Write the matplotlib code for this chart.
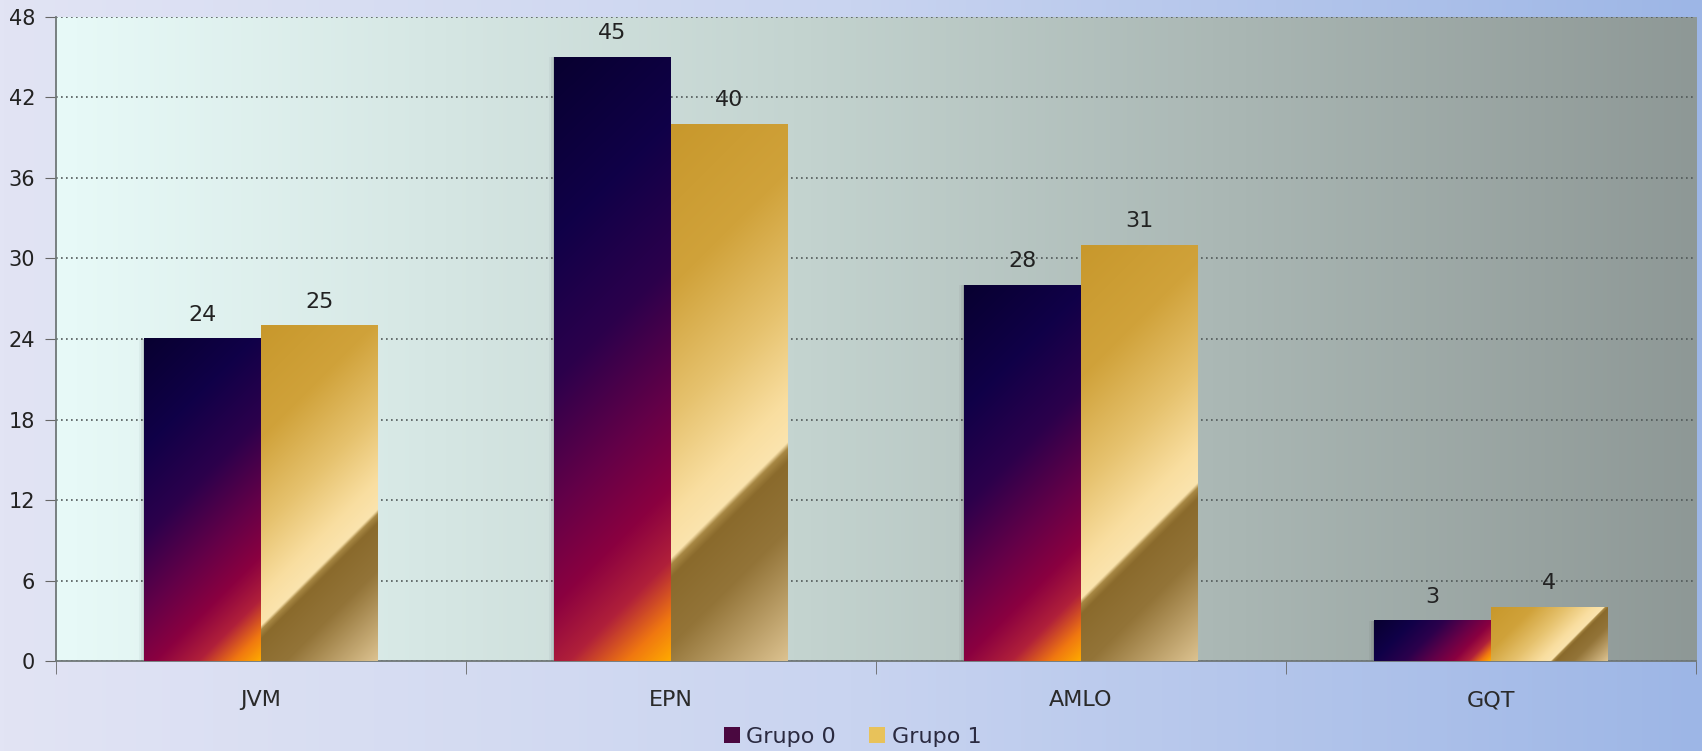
import numpy as np
import matplotlib
matplotlib.use("Agg")
import matplotlib.pyplot as plt
from matplotlib.patches import Patch

# data
categories = ["JVM", "EPN", "AMLO", "GQT"]
grupo0 = [24, 45, 28, 3]
grupo1 = [25, 40, 31, 4]
series_names = ["Grupo 0", "Grupo 1"]
y_ticks = [0, 6, 12, 18, 24, 30, 36, 42, 48]


def hex2rgb(h):
    h = h.lstrip("#")
    return np.array([int(h[i:i + 2], 16) for i in (0, 2, 4)]) / 255.0


def ramp(t, stops, cols):
    cols = np.array([hex2rgb(c) for c in cols])
    out = np.zeros(t.shape + (3,))
    for k in range(3):
        out[..., k] = np.interp(t, stops, cols[:, k])
    return out


def diag(wpx, hpx):
    # 45 degree position inside the bar, 0 at top-left, 1 at bottom-right
    w = max(int(wpx), 2)
    h = max(int(hpx), 2)
    xx = np.arange(w)[None, :].astype(float)
    yy = np.arange(h)[:, None].astype(float)  # from top
    return (xx + yy) / (w + h - 2)


def img_grupo0(wpx, hpx):
    s = diag(wpx, hpx)
    return ramp(s, [0, 0.25, 0.45, 0.63, 0.76, 0.86, 0.94, 1.0],
                ["#080030", "#100048", "#2c004c", "#640048", "#8a0040", "#b0203a", "#f07810", "#ffaa00"])


def img_grupo1(wpx, hpx):
    s = diag(wpx, hpx)
    return ramp(s, [0, 0.25, 0.45, 0.6, 0.665, 0.675, 0.695, 0.8, 1.0],
                ["#c8982c", "#d0a23a", "#e6c26e", "#f9dea0", "#fbe4ae",
                 "#a88844", "#8a6a2c", "#937438", "#dcc290"])


fig = plt.figure(figsize=(17.02, 7.51), dpi=100)

# figure background gradient
bg = fig.add_axes([0, 0, 1, 1], zorder=-10)
gx = np.linspace(0, 1, 400)[None, :]
bg.imshow(ramp(np.repeat(gx, 2, axis=0), [0, 0.5, 1], ["#e2e4f4", "#c9d4f0", "#9db6e6"]),
          extent=[0, 1, 0, 1], aspect="auto")
bg.axis("off")

ax = fig.add_axes([0.0329, 0.1198, 0.9636, 0.8576])
ax.set_facecolor("none")

# plot area gradient
px = np.linspace(0, 1, 400)[None, :]
ax.imshow(ramp(np.repeat(px, 2, axis=0), [0, 0.45, 1], ["#e8faf8", "#c4d4d0", "#8e9896"]),
          extent=[-0.5, 3.5, 0, 48], aspect="auto", zorder=0)

x = np.arange(len(categories))
bw = 0.285
ax.set_xlim(-0.5, 3.5)
ax.set_ylim(0, 48)

ax.yaxis.grid(True, linestyle=(0, (1, 2)), color="#505858", linewidth=1.2, zorder=1)
ax.set_axisbelow(True)

bars0 = ax.bar(x - bw, grupo0, width=bw, align="edge", color="none", zorder=3)
bars1 = ax.bar(x, grupo1, width=bw, align="edge", color="none", zorder=3)

fig.canvas.draw()
for bars, maker in [(bars0, img_grupo0), (bars1, img_grupo1)]:
    for b in bars:
        x0, y0 = b.get_x(), 0
        x1, y1 = b.get_x() + b.get_width(), b.get_height()
        p0 = ax.transData.transform((x0, y0))
        p1 = ax.transData.transform((x1, y1))
        img = maker(p1[0] - p0[0], p1[1] - p0[1])
        ax.imshow(img, extent=[x0, x1, y0, y1], aspect="auto", zorder=3, interpolation="bilinear")

# soft shadow left of the first bar
for i in range(len(categories)):
    left = x[i] - bw
    for k, a in enumerate([0.10, 0.06, 0.03]):
        ax.fill_between([left - 0.004 * (k + 1), left], 0, grupo0[i], color="black", alpha=a,
                        linewidth=0, zorder=2)

ax.set_xlim(-0.5, 3.5)
ax.set_ylim(0, 48)

for b, v in zip(list(bars0) + list(bars1), grupo0 + grupo1):
    ax.annotate(str(v), (b.get_x() + b.get_width() / 2, v), xytext=(0, 13),
                textcoords="offset points", ha="center", va="baseline",
                fontsize=16, color="#222222", zorder=5)

ax.set_yticks(y_ticks)
ax.set_xticks(x)
ax.set_xticklabels(categories)
ax.tick_params(axis="y", length=8, color="#666666", labelsize=15, labelcolor="#222222", pad=7)
ax.tick_params(axis="x", length=0, labelsize=16, labelcolor="#2a2a2a", pad=21)
ax.set_xticks([-0.5, 0.5, 1.5, 2.5, 3.5], minor=True)
ax.tick_params(axis="x", which="minor", length=9, color="#666666")

for s in ["top", "right"]:
    ax.spines[s].set_visible(False)
ax.spines["left"].set_color("#707878")
ax.spines["bottom"].set_color("#707878")
ax.spines["left"].set_linewidth(1.3)
ax.spines["bottom"].set_linewidth(1.3)

handles = [Patch(facecolor="#4a0840", edgecolor="none"),
           Patch(facecolor="#e8c25a", edgecolor="none")]
fig.legend(handles, series_names, loc="center", bbox_to_anchor=(0.501, 0.019),
           ncol=2, frameon=False, fontsize=16, handlelength=0.7, handleheight=0.7,
           handletextpad=0.3, columnspacing=1.5, labelcolor="#2a2a40",
           borderpad=0, borderaxespad=0)

fig.savefig("out.png", dpi=100)
